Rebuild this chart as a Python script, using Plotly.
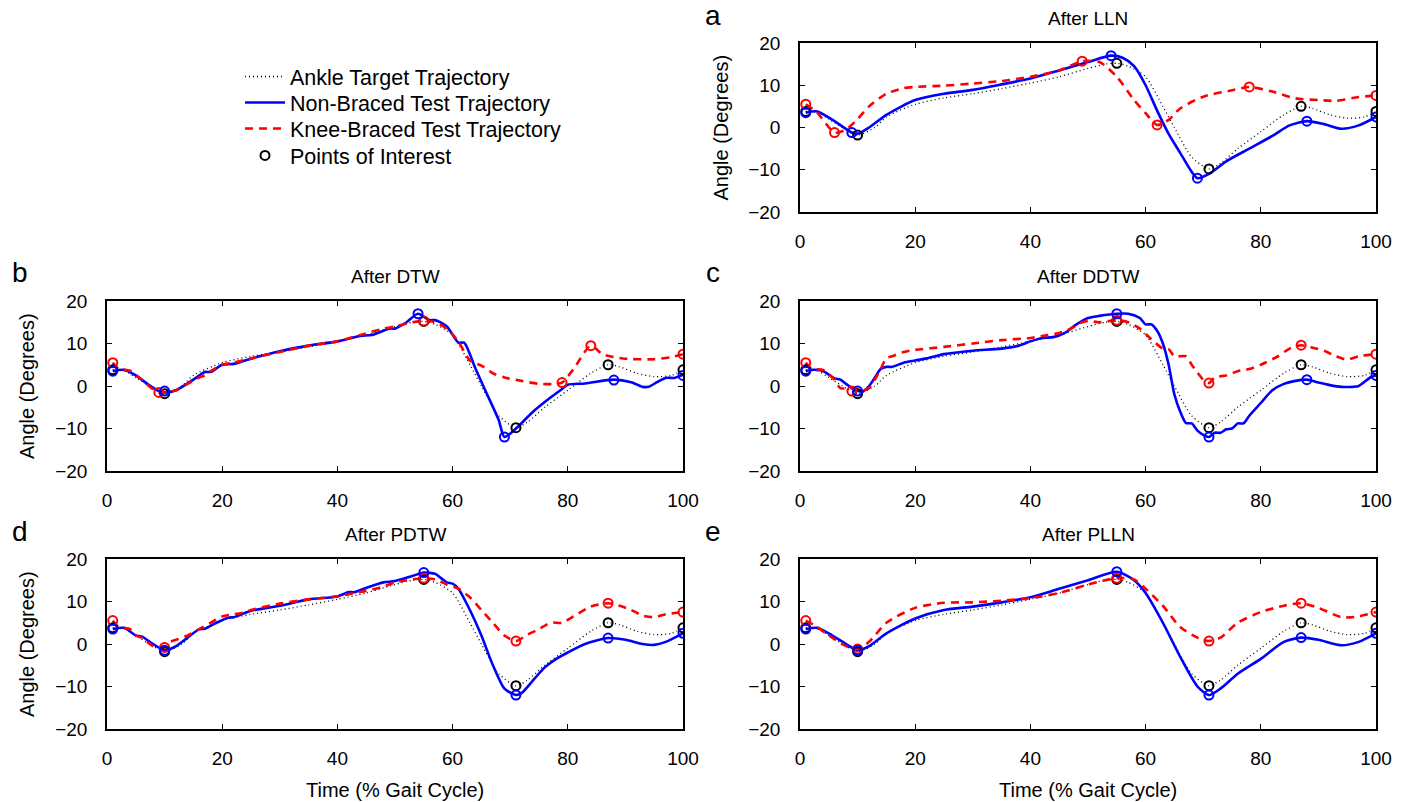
import plotly.graph_objects as go

# ---------------- data ----------------
TARGET_X = [1, 3, 5, 8, 10, 13, 15, 20, 25, 30, 35, 40, 45, 50, 53, 55, 57, 60, 63, 65, 68, 71, 73, 76, 80, 84, 87, 89, 92, 95, 98, 100]
TARGET_Y = [3.8, 3.6, 2.0, -0.5, -1.8, 0.0, 2.5, 5.5, 7.0, 8.0, 9.2, 10.5, 12.0, 14.0, 15.0, 15.2, 14.5, 12.0, 5.0, 0.0, -7.0, -9.8, -8.5, -5.0, -1.0, 3.0, 5.0, 4.5, 3.0, 2.2, 2.5, 3.8]
TARGET_POI_X = [1, 10, 55, 71, 87, 100]
TARGET_POI_Y = [3.8, -1.8, 15.2, -9.8, 5.0, 3.8]

# After LLN
LLN_NB_X = [1, 3, 6, 9, 10, 12, 15, 20, 25, 30, 35, 40, 45, 50, 54, 56, 58, 60, 62, 64, 66, 68, 69, 71, 74, 78, 82, 85, 88, 91, 94, 97, 100]
LLN_NB_Y = [3.5, 3.8, 1.5, -1.2, -1.5, 0.0, 3.0, 6.5, 8.0, 8.9, 10.2, 11.6, 13.5, 15.5, 17.0, 16.5, 14.5, 10.0, 4.0, -1.5, -6.0, -10.5, -12.0, -11.0, -8.0, -5.0, -2.0, 0.5, 1.5, 0.8, -0.3, 0.5, 2.5]
LLN_NB_POI_X = [1, 9, 54, 69, 88, 100]
LLN_NB_POI_Y = [3.5, -1.2, 17.0, -12.0, 1.5, 2.5]
LLN_KB_X = [1, 3, 6, 8, 10, 12, 15, 18, 20, 25, 30, 35, 40, 45, 49, 52, 55, 58, 60, 62, 64, 66, 70, 75, 78, 82, 86, 90, 93, 97, 100]
LLN_KB_Y = [5.5, 3.5, -1.2, -0.5, 2.0, 5.0, 8.0, 9.3, 9.6, 9.9, 10.4, 11.0, 12.0, 13.5, 15.7, 15.5, 12.0, 6.5, 3.4, 0.6, 1.8, 4.5, 7.3, 8.8, 9.6, 8.5, 6.9, 6.5, 6.3, 7.2, 7.6]
LLN_KB_POI_X = [1, 6, 49, 62, 78, 100]
LLN_KB_POI_Y = [5.5, -1.2, 15.7, 0.6, 9.6, 7.6]

# After DTW
DTW_NB_X = [1, 3, 5, 7, 9, 10, 12, 15, 17, 18, 20, 22, 24, 26, 30, 35, 40, 44, 46, 49, 50, 52, 54, 56, 57, 59, 61, 62, 64, 66, 68, 69, 71, 74, 77, 79, 80, 83, 88, 91, 93, 94, 95.5, 97, 98.5, 100]
DTW_NB_Y = [3.5, 3.8, 2.5, 0.5, -1.2, -1.5, -1.0, 1.5, 3.3, 3.3, 5.0, 5.2, 6.0, 6.8, 8.2, 9.5, 10.5, 11.8, 12.0, 13.5, 13.5, 15.0, 17.0, 15.5, 15.5, 14.0, 10.2, 10.2, 4.0, -2.0, -8.0, -12.0, -10.0, -6.0, -2.7, -0.7, 0.3, 0.6, 1.5, 0.9, -0.2, -0.2, 0.9, 1.9, 1.9, 2.6]
DTW_NB_POI_X = [1, 10, 54, 69, 88, 100]
DTW_NB_POI_Y = [3.5, -1.2, 17.0, -12.0, 1.4, 2.5]
DTW_KB_X = [1, 2, 4, 6, 8, 9, 10, 12, 14, 16, 17, 18, 20, 22, 25, 30, 35, 40, 44, 48, 50, 53, 55, 57, 59, 61, 63, 65, 67, 69, 72, 75, 78, 79, 81, 84, 86, 88, 90, 95, 98, 100]
DTW_KB_Y = [5.5, 4.0, 3.6, 1.5, -0.8, -1.5, -1.5, -1.0, 0.5, 2.0, 2.5, 3.5, 5.0, 5.5, 6.5, 8.0, 9.5, 10.5, 12.0, 13.5, 14.0, 15.0, 15.3, 15.0, 13.5, 10.5, 6.0, 4.8, 3.0, 2.0, 1.2, 0.5, 0.5, 0.8, 4.0, 9.5, 7.5, 6.8, 6.4, 6.3, 6.8, 7.5]
DTW_KB_POI_X = [1, 9, 55, 79, 84, 100]
DTW_KB_POI_Y = [5.5, -1.5, 15.3, 0.8, 9.5, 7.5]

# After DDTW
DDTW_NB_X = [1, 2, 4, 6, 7, 8, 9, 10, 11, 12, 13, 14, 15, 16, 18, 20, 22, 25, 30, 35, 38, 40, 42, 44, 46, 48, 50, 52, 55, 57, 59, 60, 61, 62, 63, 64, 65, 66, 67, 68, 69, 70, 71, 72, 73, 74, 75, 76, 77, 78, 80, 82, 84, 86, 88, 90, 92, 94, 96, 97, 99, 100]
DDTW_NB_Y = [3.5, 3.8, 3.5, 1.8, 1.5, 0.5, -0.5, -1.2, -1.2, 0.0, 2.0, 4.0, 4.5, 4.5, 5.5, 6.0, 6.5, 7.5, 8.3, 8.8, 9.5, 10.5, 11.3, 11.5, 12.5, 14.5, 16.0, 16.5, 17.0, 17.0, 16.0, 14.5, 14.5, 13.0, 10.0, 5.0, -2.0, -6.0, -8.7, -8.8, -10.5, -11.5, -12.0, -11.0, -11.0, -10.2, -10.0, -8.8, -8.8, -7.0, -4.0, -1.0, 0.5, 1.2, 1.5, 0.8, 0.2, -0.2, -0.2, 0.0, 2.0, 2.5]
DDTW_NB_POI_X = [1, 10, 55, 71, 88, 100]
DDTW_NB_POI_Y = [3.5, -1.2, 17.0, -12.0, 1.5, 2.5]
DDTW_KB_X = [1, 2, 4, 6, 7, 9, 11, 12, 13, 14, 15, 16, 18, 20, 25, 30, 35, 40, 43, 45, 47, 49, 50, 52, 55, 57, 59, 61, 63, 64, 65, 67, 68, 70, 71, 72, 74, 76, 78, 80, 83, 85, 87, 89, 91, 93, 95, 97, 100]
DDTW_KB_Y = [5.5, 4.0, 3.8, 1.5, -0.5, -0.5, -1.0, -0.5, 1.5, 4.0, 6.5, 7.0, 8.0, 8.5, 9.2, 10.0, 10.8, 11.3, 12.0, 12.5, 13.5, 15.0, 15.3, 15.0, 15.5, 15.0, 13.5, 11.0, 8.8, 8.7, 7.0, 7.0, 5.0, 1.5, 0.7, 2.0, 2.5, 3.5, 4.0, 5.0, 7.0, 8.8, 9.6, 9.0, 8.3, 7.0, 6.2, 7.0, 7.5]
DDTW_KB_POI_X = [1, 9, 55, 71, 87, 100]
DDTW_KB_POI_Y = [5.5, -1.2, 15.5, 0.7, 9.6, 7.5]

# After PDTW
PDTW_NB_X = [1, 3, 5, 6, 8, 10, 12, 14, 16, 17, 19, 21, 22, 25, 30, 35, 40, 42, 43, 45, 48, 50, 53, 55, 57, 58, 59, 60, 61, 63, 65, 67, 69, 71, 72, 74, 76, 78, 80, 83, 87, 90, 93, 95, 97, 100]
PDTW_NB_Y = [3.5, 3.8, 2.0, 1.8, 0.0, -1.5, -0.5, 1.5, 3.5, 3.6, 5.0, 6.2, 6.3, 7.8, 9.0, 10.5, 11.2, 12.2, 12.2, 13.2, 14.5, 14.8, 16.0, 16.8, 16.5, 15.5, 14.5, 14.2, 13.0, 8.0, 2.0, -5.0, -10.5, -12.0, -11.5, -8.5, -5.5, -3.5, -2.0, 0.0, 1.4, 1.0, 0.0, -0.2, 0.5, 2.5]
PDTW_NB_POI_X = [1, 10, 55, 71, 87, 100]
PDTW_NB_POI_Y = [3.5, -1.5, 16.8, -12.0, 1.4, 2.5]
PDTW_KB_X = [1, 2, 4, 5, 6, 8, 10, 11, 12, 14, 16, 18, 20, 22, 24, 25, 30, 35, 40, 43, 45, 48, 50, 52, 55, 57, 59, 61, 63, 65, 67, 69, 71, 73, 75, 77, 79, 81, 84, 87, 89, 91, 93, 95, 97, 100]
PDTW_KB_Y = [5.5, 4.0, 3.5, 2.0, 1.5, -0.5, -0.8, 0.5, 1.0, 2.0, 3.5, 5.0, 6.5, 7.0, 7.5, 8.0, 9.5, 10.5, 11.2, 12.0, 12.5, 13.5, 14.5, 15.0, 15.5, 15.2, 14.0, 13.0, 11.0, 8.0, 5.0, 2.0, 0.7, 2.2, 3.5, 5.0, 5.0, 6.5, 8.8, 9.6, 9.0, 8.0, 6.7, 6.3, 7.0, 7.5]
PDTW_KB_POI_X = [1, 10, 55, 71, 87, 100]
PDTW_KB_POI_Y = [5.5, -0.8, 15.5, 0.7, 9.6, 7.5]

# After PLLN
PLLN_NB_X = [1, 3, 5, 8, 10, 12, 15, 20, 25, 30, 35, 40, 45, 50, 55, 58, 60, 63, 66, 69, 71, 73, 76, 80, 84, 87, 90, 94, 97, 100]
PLLN_NB_Y = [3.5, 3.8, 2.5, 0.0, -1.5, -0.5, 2.5, 6.0, 8.0, 8.8, 9.8, 11.0, 13.0, 15.0, 17.0, 15.0, 12.0, 5.0, -3.0, -10.0, -12.0, -10.5, -7.0, -3.5, 0.5, 1.5, 1.0, -0.3, 0.5, 2.5]
PLLN_NB_POI_X = [1, 10, 55, 71, 87, 100]
PLLN_NB_POI_Y = [3.5, -1.5, 17.0, -12.0, 1.5, 2.5]
PLLN_KB_X = [1, 3, 5, 8, 10, 12, 15, 20, 25, 30, 35, 40, 45, 50, 55, 58, 60, 63, 66, 69, 71, 73, 76, 80, 84, 87, 90, 94, 97, 100]
PLLN_KB_Y = [5.5, 4.0, 2.0, -0.5, -1.2, 0.5, 5.0, 8.5, 9.7, 9.8, 10.2, 10.8, 12.0, 14.0, 15.5, 15.2, 13.0, 9.0, 4.0, 1.5, 0.7, 1.5, 5.0, 7.5, 9.0, 9.6, 8.5, 6.3, 6.5, 7.5]
PLLN_KB_POI_X = [1, 10, 55, 71, 87, 100]
PLLN_KB_POI_Y = [5.5, -1.2, 15.5, 0.7, 9.6, 7.5]

PANEL_TITLES = ["After LLN", "After DTW", "After DDTW", "After PDTW", "After PLLN"]
PANEL_LETTERS = ["a", "b", "c", "d", "e"]
SERIES_NAMES = ["Ankle Target Trajectory", "Non-Braced Test Trajectory",
                "Knee-Braced Test Trajectory", "Points of Interest"]
X_TICKS = [0, 20, 40, 60, 80, 100]
Y_TICKS = [-20, -10, 0, 10, 20]
X_TITLE = "Time (% Gait Cycle)"
Y_TITLE = "Angle (Degrees)"

PANELS = [
    (LLN_NB_X, LLN_NB_Y, LLN_NB_POI_X, LLN_NB_POI_Y, LLN_KB_X, LLN_KB_Y, LLN_KB_POI_X, LLN_KB_POI_Y),
    (DTW_NB_X, DTW_NB_Y, DTW_NB_POI_X, DTW_NB_POI_Y, DTW_KB_X, DTW_KB_Y, DTW_KB_POI_X, DTW_KB_POI_Y),
    (DDTW_NB_X, DDTW_NB_Y, DDTW_NB_POI_X, DDTW_NB_POI_Y, DDTW_KB_X, DDTW_KB_Y, DDTW_KB_POI_X, DDTW_KB_POI_Y),
    (PDTW_NB_X, PDTW_NB_Y, PDTW_NB_POI_X, PDTW_NB_POI_Y, PDTW_KB_X, PDTW_KB_Y, PDTW_KB_POI_X, PDTW_KB_POI_Y),
    (PLLN_NB_X, PLLN_NB_Y, PLLN_NB_POI_X, PLLN_NB_POI_Y, PLLN_KB_X, PLLN_KB_Y, PLLN_KB_POI_X, PLLN_KB_POI_Y),
]

# ---------------- layout geometry (pixels of the 1409x802 picture) ----------------
W, H = 1409, 802
# (left, right, top, bottom) in px
BOXES = [
    (800, 1376, 43, 212),
    (107, 683, 301, 471),
    (800, 1376, 301, 471),
    (107, 683, 559, 729),
    (800, 1376, 559, 729),
]
SHOW_YTITLE = [True, True, False, True, False]
SHOW_XTITLE = [False, False, False, True, True]
LEGEND_ROW_Y = [78, 104, 130, 157]   # centre of each legend row (px)
LEGEND_TEXT_X = 292                  # left edge of legend text (px)

FONT = "Liberation Sans, Arial, Helvetica, sans-serif"
BLUE = "#0000ff"
RED = "#ff0000"
LEG_IDS = ["legend", "legend2", "legend3", "legend4"]

fig = go.Figure()
annotations = []
layout_axes = {}

for i, (box, data) in enumerate(zip(BOXES, PANELS)):
    nbx, nby, nbpx, nbpy, kbx, kby, kbpx, kbpy = data
    xa = "x" if i == 0 else f"x{i+1}"
    ya = "y" if i == 0 else f"y{i+1}"
    leg = (i == 0)
    line_kw = dict(shape="spline", smoothing=0.7)
    fig.add_trace(go.Scatter(x=TARGET_X, y=TARGET_Y, mode="lines", xaxis=xa, yaxis=ya,
                             name=SERIES_NAMES[0], showlegend=leg, legend=LEG_IDS[0],
                             line=dict(color="black", width=1.3, dash="1px,3px", **line_kw)))
    fig.add_trace(go.Scatter(x=nbx, y=nby, mode="lines", xaxis=xa, yaxis=ya,
                             name=SERIES_NAMES[1], showlegend=leg, legend=LEG_IDS[1],
                             line=dict(color=BLUE, width=2.6, **line_kw)))
    fig.add_trace(go.Scatter(x=kbx, y=kby, mode="lines", xaxis=xa, yaxis=ya,
                             name=SERIES_NAMES[2], showlegend=leg, legend=LEG_IDS[2],
                             line=dict(color=RED, width=2.6, dash="8px,6px", **line_kw)))
    fig.add_trace(go.Scatter(x=TARGET_POI_X, y=TARGET_POI_Y, mode="markers", xaxis=xa, yaxis=ya,
                             name=SERIES_NAMES[3], showlegend=leg, legend=LEG_IDS[3],
                             marker=dict(symbol="circle-open", size=9, color="black",
                                         line=dict(width=2, color="black"))))
    fig.add_trace(go.Scatter(x=kbpx, y=kbpy, mode="markers", xaxis=xa, yaxis=ya,
                             showlegend=False,
                             marker=dict(symbol="circle-open", size=9, color=RED,
                                         line=dict(width=2, color=RED))))
    fig.add_trace(go.Scatter(x=nbpx, y=nbpy, mode="markers", xaxis=xa, yaxis=ya,
                             showlegend=False,
                             marker=dict(symbol="circle-open", size=9, color=BLUE,
                                         line=dict(width=2, color=BLUE))))

    l, r, t, b = box
    xdom = [l / W, r / W]
    ydom = [1 - b / H, 1 - t / H]
    axis_common = dict(showline=True, linecolor="black", linewidth=1.6, mirror="ticks",
                       ticks="inside", ticklen=5, tickwidth=1.2, tickcolor="black",
                       showgrid=False, zeroline=False,
                       tickfont=dict(family=FONT, size=19, color="black"))
    layout_axes["xaxis" if i == 0 else f"xaxis{i+1}"] = dict(
        domain=xdom, range=[0, 100], tickvals=X_TICKS, anchor=ya,
        ticklabelstandoff=11, **axis_common)
    layout_axes["yaxis" if i == 0 else f"yaxis{i+1}"] = dict(
        domain=ydom, range=[-20, 20], tickvals=Y_TICKS, anchor=xa,
        ticklabelstandoff=14, **axis_common)

    cx = (l + r) / 2
    annotations.append(dict(text=PANEL_TITLES[i], x=cx / W, y=1 - (t - 25) / H,
                            xref="paper", yref="paper", showarrow=False,
                            xanchor="center", yanchor="middle",
                            font=dict(family=FONT, size=19, color="black")))
    annotations.append(dict(text=PANEL_LETTERS[i], x=(l - 87) / W, y=1 - (t - 28) / H,
                            xref="paper", yref="paper", showarrow=False,
                            xanchor="center", yanchor="middle",
                            font=dict(family=FONT, size=28, color="black")))
    if SHOW_YTITLE[i]:
        annotations.append(dict(text=Y_TITLE, x=(l - 80) / W, y=1 - ((t + b) / 2) / H,
                                xref="paper", yref="paper", showarrow=False, textangle=-90,
                                xanchor="center", yanchor="middle",
                                font=dict(family=FONT, size=20, color="black")))
    if SHOW_XTITLE[i]:
        annotations.append(dict(text=X_TITLE, x=cx / W, y=1 - (b + 61) / H,
                                xref="paper", yref="paper", showarrow=False,
                                xanchor="center", yanchor="middle",
                                font=dict(family=FONT, size=20, color="black")))

legends = {}
for k, lid in enumerate(LEG_IDS):
    legends[lid] = dict(x=(LEGEND_TEXT_X - 52) / W, y=1 - (LEGEND_ROW_Y[k] - 22) / H,
                        xanchor="left", yanchor="top",
                        bgcolor="rgba(0,0,0,0)", borderwidth=0,
                        font=dict(family=FONT, size=21.5, color="black"),
                        itemwidth=40)

fig.update_layout(
    autosize=True,
    margin=dict(l=0, r=0, t=0, b=0, autoexpand=False),
    paper_bgcolor="white", plot_bgcolor="white",
    font=dict(family=FONT, size=18, color="black"),
    annotations=annotations,
    showlegend=True,
    **legends,
    **layout_axes,
)

POST = ("var gd=document.getElementById('{plot_id}');"
        "document.documentElement.style.margin='0';document.body.style.margin='0';"
        "document.documentElement.style.overflow='hidden';document.body.style.overflow='hidden';"
        "gd.style.position='fixed';gd.style.left='0px';gd.style.top='0px';"
        "gd.style.width='100vw';gd.style.height='100vh';"
        "Plotly.Plots.resize(gd);")

fig.write_html("out.html", post_script=POST,
               default_width="100vw", default_height="100vh",
               config={"displayModeBar": False, "responsive": True})
